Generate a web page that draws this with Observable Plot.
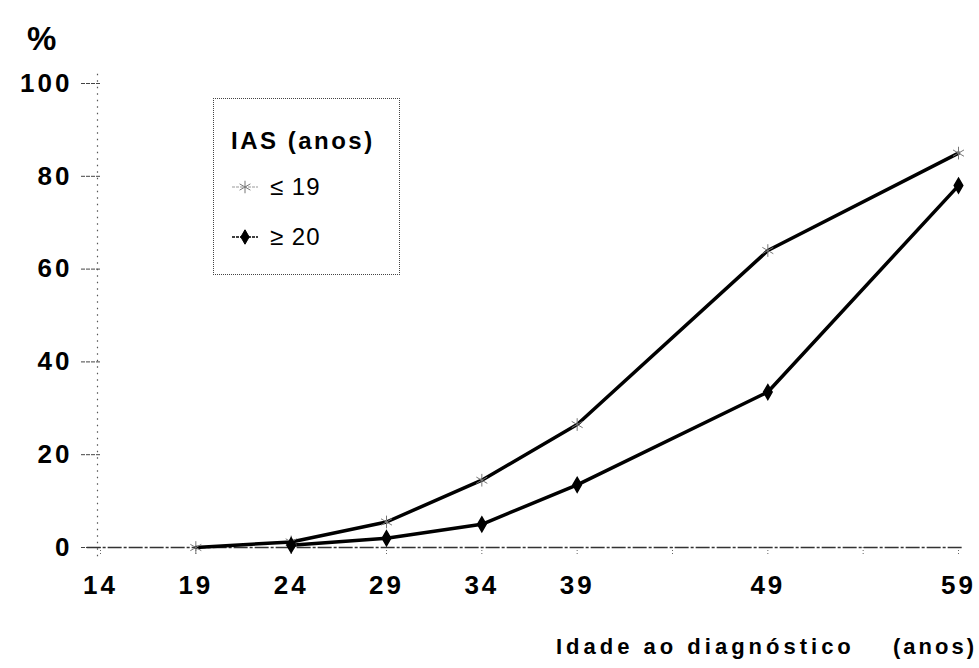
<!DOCTYPE html>
<html><head><meta charset="utf-8">
<script src="https://cdn.jsdelivr.net/npm/d3@7"></script>
<script src="https://cdn.jsdelivr.net/npm/@observablehq/plot@0.6"></script>
<style>
body{margin:0;background:#fff;}
#wrap{position:relative;width:979px;height:668px;font-family:"Liberation Sans",Arial,Helvetica,sans-serif;color:#000;}
#wrap svg text{letter-spacing:3px;}
g[aria-label="x-axis tick"] path{stroke-dasharray:1 2;stroke:#666;}
g[aria-label="y-axis tick"] path{stroke-dasharray:4 1;stroke:#444;}
.pct{position:absolute;left:27px;top:20px;font-size:33px;font-weight:bold;}
.xlab{position:absolute;top:634px;font-size:22px;font-weight:bold;letter-spacing:4px;white-space:pre;}
.legend{position:absolute;left:213px;top:98px;width:187px;height:177px;border:1.5px dotted #444;box-sizing:border-box;}
.legend .t{position:absolute;left:17px;top:28px;font-size:24px;font-weight:bold;letter-spacing:2.5px;}
.legend .row{position:absolute;left:16px;font-size:24px;letter-spacing:1px;display:flex;align-items:center;}
.legend .row svg{margin-right:10px;}
</style></head><body><div id="wrap"></div>
<script>
const ages = [14, 19, 24, 29, 34, 39, 49, 59];
const ageTicks = [14, 19, 24, 29, 34, 39, 44, 49, 54, 59];
const yTicks = [0, 20, 40, 60, 80, 100];
const groups = ["≤ 19", "≥ 20"];
const series1Ages = [19, 24, 29, 34, 39, 49, 59];
const series1Values = [0, 1.2, 5.5, 14.5, 26.5, 64, 85];
const series2Ages = [24, 29, 34, 39, 49, 59];
const series2Values = [0.5, 2, 5, 13.5, 33.5, 78];
const yLabel = "%";
const xLabel = "Idade ao diagnóstico";
const xUnit = "(anos)";
const legendTitle = "IAS (anos)";

const d1 = series1Ages.map((a, i) => ({age: a, pct: series1Values[i], g: groups[0]}));
const d2 = series2Ages.map((a, i) => ({age: a, pct: series2Values[i], g: groups[1]}));

const plot = Plot.plot({
  width: 979, height: 668,
  marginLeft: 100, marginRight: 21, marginTop: 83, marginBottom: 121,
  style: {fontFamily: '"Liberation Sans", Arial, sans-serif', fontSize: "26px", fontWeight: "bold", background: "white", overflow: "visible"},
  x: {domain: [14, 59], ticks: ageTicks, tickFormat: d => ages.includes(d) ? String(d) : "", tickSize: 7, tickPadding: 21, label: null},
  y: {domain: [0, 100], ticks: yTicks, tickSize: 19, tickPadding: 9, label: null},
  marks: [
    Plot.ruleX([14], {y1: -2, y2: 103, stroke: "#555", strokeWidth: 1.2, strokeDasharray: "1.5 5", dx: -3}),
    Plot.ruleY([0], {x1: 13.3, x2: 59.2, stroke: "#333", strokeWidth: 1.3, strokeDasharray: "14 2 3 2"}),
    Plot.line(d1, {x: "age", y: "pct", stroke: "#000", strokeWidth: 3.5}),
    Plot.line(d2, {x: "age", y: "pct", stroke: "#000", strokeWidth: 3.5}),
    Plot.dot(d1, {x: "age", y: "pct", symbol: "asterisk", r: 6, stroke: "#777", strokeWidth: 1}),
    Plot.dot(d2, {x: "age", y: "pct", symbol: "diamond", r: 4.5, fill: "#000", stroke: "#000", strokeWidth: 1.5})
  ]
});

const wrap = document.getElementById("wrap");
wrap.appendChild(plot);

const pct = document.createElement("div");
pct.className = "pct"; pct.textContent = yLabel;
wrap.appendChild(pct);

const xl = document.createElement("div");
xl.className = "xlab"; xl.style.left = "556px"; xl.textContent = xLabel;
wrap.appendChild(xl);
const xu = document.createElement("div");
xu.className = "xlab"; xu.style.right = "2px"; xu.style.letterSpacing = "3px"; xu.textContent = xUnit;
wrap.appendChild(xu);

function swatch(type) {
  const s = d3.create("svg").attr("width", 30).attr("height", 20);
  s.append("line").attr("x1", 2).attr("x2", 28).attr("y1", 10).attr("y2", 10)
    .attr("stroke", type === 0 ? "#999" : "#000").attr("stroke-width", type === 0 ? 1 : 1.5)
    .attr("stroke-dasharray", "3 1");
  const sym = type === 0 ? d3.symbolAsterisk : d3.symbolDiamond;
  s.append("path").attr("transform", "translate(15,10)")
    .attr("d", d3.symbol(sym, type === 0 ? 110 : 60)())
    .attr("fill", type === 0 ? "none" : "#000").attr("stroke", type === 0 ? "#777" : "#000");
  return s.node();
}

const lg = document.createElement("div");
lg.className = "legend";
const t = document.createElement("div");
t.className = "t"; t.textContent = legendTitle;
lg.appendChild(t);
groups.forEach((g, i) => {
  const r = document.createElement("div");
  r.className = "row";
  r.style.top = (74 + i * 50) + "px";
  r.appendChild(swatch(i));
  const sp = document.createElement("span");
  sp.textContent = g;
  r.appendChild(sp);
  lg.appendChild(r);
});
wrap.appendChild(lg);
</script>
</body></html>
